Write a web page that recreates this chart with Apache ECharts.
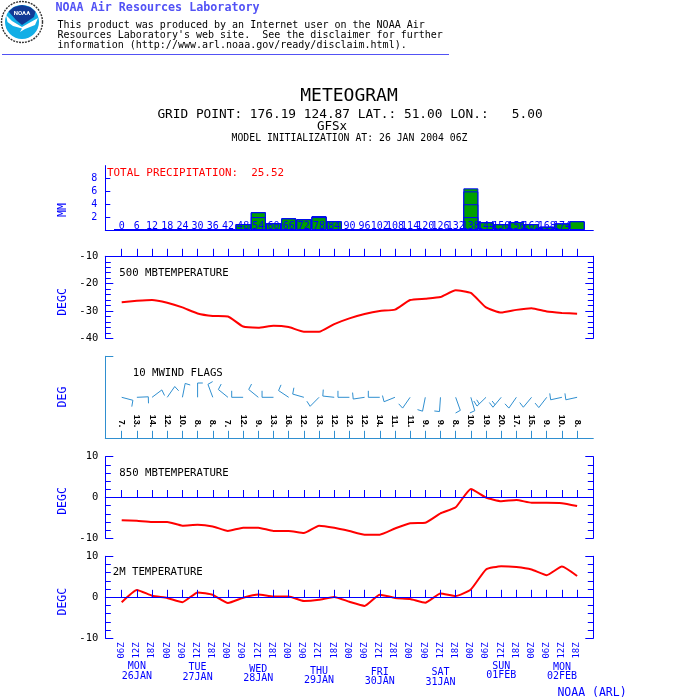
<!DOCTYPE html>
<html><head><meta charset="utf-8">
<style>html,body{margin:0;padding:0;background:#fff}#c{width:700px;height:700px}</style>
<script src="https://cdn.jsdelivr.net/npm/echarts@6/dist/echarts.min.js"></script>
</head><body><div id="c"></div>
<script>
const hours=[0,6,12,18,24,30,36,42,48,54,60,66,72,78,84,90,96,102,108,114,120,126,132,138,144,150,156,162,168,174,180];
const timeLabels=['06Z','12Z','18Z','00Z','06Z','12Z','18Z','00Z','06Z','12Z','18Z','00Z','06Z','12Z','18Z','00Z','06Z','12Z','18Z','00Z','06Z','12Z','18Z','00Z','06Z','12Z','18Z','00Z','06Z','12Z','18Z'];
const precip=[0,0,0.08,0.05,0.08,0,0,0.05,0.93,2.75,1.04,1.8,1.66,2.13,1.35,0.15,0,0,0,0,0,0,0,6.47,1.2,0.9,1.2,0.9,0.5,1.0,1.35];
const t500=[-26.8,-26.3,-26,-27,-28.7,-30.9,-31.8,-32,-35.7,-36.1,-35.4,-35.9,-37.6,-37.6,-34.8,-32.7,-31.1,-30,-29.5,-26,-25.5,-24.9,-22.4,-23.4,-28.7,-30.6,-29.6,-29,-30.2,-30.7,-31];
const windDir=[102,88,59,41,14,0,335,303,270,303,270,298,283,231,275,270,263,270,252,221,194,185,156,160,232,226,221,226,224,260,260];
const windSpeed=[7,13,14,12,10,8,8,7,12,9,13,16,12,13,12,12,12,14,11,11,9,9,8,10,19,20,17,15,9,10,8];
const t850=[-5.55,-5.7,-6,-6,-6.9,-6.7,-7.1,-8.2,-7.4,-7.4,-8.2,-8.2,-8.7,-6.9,-7.4,-8.2,-9.1,-9.1,-7.6,-6.3,-6.2,-3.9,-2.4,2.1,0,-0.9,-0.6,-1.3,-1.3,-1.4,-2.1];
const t2m=[-1.2,1.8,0.4,-0.15,-1.2,1.2,0.6,-1.4,-0.1,0.7,0.2,0.2,-0.9,-0.6,0.1,-1.1,-2.1,0.65,-0.15,-0.4,-1.3,0.9,0.3,1.9,6.8,7.6,7.4,6.8,5.4,7.5,5.2];
const dayHours=[6,30,54,78,102,126,150,174];
const dayNames=['MON','TUE','WED','THU','FRI','SAT','SUN','MON'];
const dayDates=['26JAN','27JAN','28JAN','29JAN','30JAN','31JAN','01FEB','02FEB'];

const MONO='"DejaVu Sans Mono",monospace';
const BLUE='#0000ff', RED='#ff0000', GREEN='#00a000', WIND='#2f8fd0', HEAD='#5252f5';
const L=105.3, W=488, XMIN=-6.48, XMAX=186.4;
const grids=[[165.6,64.4],[256.3,82],[356.3,82],[456.7,81.6],[556.3,82]];
const grid=grids.map(g=>({left:L,width:W,top:g[0],height:g[1],outerBoundsMode:'none',containLabel:false}));
function xa(i,o){return Object.assign({type:'value',gridIndex:i,min:XMIN,max:XMAX,splitLine:{show:false},z:6,
  axisLine:{onZero:false,lineStyle:{color:BLUE,width:1}},
  axisTick:{show:true,customValues:hours,lineStyle:{color:BLUE,width:1},length:7.5,inside:true},
  axisLabel:{show:false}},o||{});}
function ya(i,min,max,pos,showLabel){return {type:'value',gridIndex:i,min,max,interval:10,position:pos,splitLine:{show:false},
  axisLine:{show:true,onZero:false,lineStyle:{color:BLUE,width:1}},
  axisTick:{show:true,inside:true,length:8,lineStyle:{color:BLUE}},
  minorTick:{show:true,splitNumber:5,length:5.5,lineStyle:{color:BLUE}},
  axisLabel:{show:showLabel,color:'#000',fontFamily:MONO,fontSize:10.5,margin:7}};}

const xAxis=[
  xa(0,{position:'bottom',axisTick:{show:false},z:8,axisLabel:{show:true,inside:true,margin:-1,customValues:hours,color:BLUE,fontFamily:MONO,fontSize:10,hideOverlap:false,formatter:v=>String(v)}}),
  xa(1,{position:'top',axisTick:{show:true,customValues:hours,length:7.5,inside:false,lineStyle:{color:BLUE}}}),
  xa(2,{position:'bottom',axisLine:{onZero:false,lineStyle:{color:WIND}},
    axisTick:{show:true,customValues:hours,length:7.5,inside:true,lineStyle:{color:WIND}},
    axisLabel:{show:true,inside:true,margin:11,customValues:hours,rotate:-90,color:'#000',fontFamily:'"Liberation Sans",sans-serif',fontWeight:'bold',fontSize:9,hideOverlap:false,
      formatter:v=>windSpeed[hours.indexOf(v)]+'.'}}),
  xa(3,{position:'bottom',axisLine:{onZero:true,lineStyle:{color:BLUE}}}),
  xa(4,{position:'bottom',axisLine:{onZero:true,lineStyle:{color:BLUE}}}),
  xa(4,{position:'bottom',axisLine:{show:false,onZero:false},axisTick:{show:false},
    axisLabel:{show:true,margin:4,customValues:hours,rotate:90,color:BLUE,fontFamily:MONO,fontSize:9,hideOverlap:false,
      formatter:v=>timeLabels[hours.indexOf(v)]}})
];
const yAxis=[
  {type:'value',gridIndex:0,min:0,max:10,splitLine:{show:false},
   axisLine:{show:true,onZero:false,lineStyle:{color:BLUE}},
   axisTick:{show:true,inside:true,length:5,customValues:[2,4,6,8],lineStyle:{color:BLUE}},
   axisLabel:{show:true,customValues:[2,4,6,8],color:BLUE,fontFamily:MONO,fontSize:10,margin:8}},
  ya(1,-40,-10,'left',true), ya(1,-40,-10,'right',false),
  {type:'value',gridIndex:2,min:0,max:1,splitLine:{show:false},
   axisLine:{show:true,onZero:false,lineStyle:{color:WIND}},
   axisTick:{show:true,inside:true,length:8,customValues:[1],lineStyle:{color:WIND}},axisLabel:{show:false}},
  ya(3,-10,10,'left',true), ya(3,-10,10,'right',false),
  ya(4,-10,10,'left',true), ya(4,-10,10,'right',false)
];
/* bars are layered tallest first, so the outline of each layer marks the 2 mm divisions */
const precipCaps=[Infinity,6,4,2];
const barSeries=precipCaps.map(c=>({type:'bar',xAxisIndex:0,yAxisIndex:0,barWidth:15,barGap:'-100%',
  data:hours.map((h,i)=>[h,Math.min(precip[i],c)]),
  itemStyle:{color:GREEN,borderColor:BLUE,borderWidth:1},silent:true,animation:false}));
function line(x,y,data){return {type:'line',xAxisIndex:x,yAxisIndex:y,data:hours.map((h,i)=>[h,data[i]]),showSymbol:false,smooth:0.15,
  lineStyle:{color:RED,width:2},itemStyle:{color:RED},silent:true,animation:false,z:5};}

const windSeries={type:'custom',xAxisIndex:2,yAxisIndex:3,silent:true,animation:false,clip:false,
  data:hours.map((h,i)=>[h,windDir[i],windSpeed[i]]),
  encode:{x:0,y:-1},
  renderItem(p,api){
    const o=api.coord([api.value(0),0.5]), a=api.value(1)*Math.PI/180, s=api.value(2);
    const vec=(ang,len)=>[Math.sin(ang)*len*0.8,-Math.cos(ang)*len];
    const st=vec(a,14.3), end=[o[0]+st[0],o[1]+st[1]];
    const b=vec(a+Math.PI/2,6.5);
    const children=[{type:'polyline',shape:{points:[o,end,[end[0]+b[0],end[1]+b[1]]]},style:{stroke:WIND,fill:null,lineWidth:1}}];
    if(s>=18){const m=[o[0]+st[0]*0.75,o[1]+st[1]*0.75];
      children.push({type:'polyline',shape:{points:[m,[m[0]+b[0]*0.8,m[1]+b[1]*0.8]]},style:{stroke:WIND,fill:null,lineWidth:1}});}
    return {type:'group',children};
  }};

const dayYOffset=[0,1,2.5,4.5,5.5,6,-0.5,0.5];
const daySeries={type:'custom',xAxisIndex:4,yAxisIndex:6,silent:true,animation:false,clip:false,
  data:dayHours.map((h,i)=>[h,i]),encode:{x:0,y:-1},
  renderItem(p,api){
    const i=api.value(1), c=api.coord([api.value(0),-10]), y0=c[1]+28.5+dayYOffset[i];
    const st=t=>({text:t,fill:BLUE,font:'10px '+MONO,textAlign:'center',textVerticalAlign:'middle'});
    return {type:'group',children:[
      {type:'text',x:c[0],y:y0,style:st(dayNames[i])},
      {type:'text',x:c[0],y:y0+9.5,style:st(dayDates[i])}]};
  }};

function txt(text,x,y,size,fill,align,extra){return Object.assign({type:'text',x,y,silent:true,style:{text,fill,font:(extra&&extra.bold?'bold ':'')+size+'px '+MONO,textAlign:align||'left',textVerticalAlign:'middle'}},extra&&extra.rotation?{rotation:extra.rotation}:{});}
const V=Math.PI/2;
const logo=[
  {type:'circle',shape:{cx:22,cy:22,r:20.5},style:{fill:'#fff',stroke:'#333',lineWidth:1.4,lineDash:[2,1]},silent:true},
  {type:'circle',shape:{cx:22,cy:22,r:17},style:{fill:'#12aee6'},silent:true},
  {type:'polygon',shape:{points:[[8.5,11.5],[14,7],[22,5],[30,7],[35.5,11.5],[34,17],[28,21],[22,25],[16,20]]},style:{fill:'#123a96'},silent:true},
  {type:'polygon',shape:{points:[[6,15],[12,21],[22,27],[29,23],[38,18],[35,25],[25,29],[20,32],[22,28.5],[13,26],[7.5,22]]},style:{fill:'#fff'},silent:true},
  {type:'text',x:22,y:13,silent:true,style:{text:'NOAA',fill:'#fff',font:'bold 6px Roboto,sans-serif',textAlign:'center',textVerticalAlign:'middle'}}
];
const texts=[
  txt('NOAA Air Resources Laboratory',55.5,8,11.7,HEAD,'left',{bold:true}),
  txt('This product was produced by an Internet user on the NOAA Air',57.5,25.5,10,'#000'),
  txt("Resources Laboratory's web site.  See the disclaimer for further",57.5,35.5,10,'#000'),
  txt('information (http://www.arl.noaa.gov/ready/disclaim.html).',57.5,45.5,10,'#000'),
  {type:'line',silent:true,shape:{x1:2,y1:54.5,x2:449,y2:54.5},style:{stroke:HEAD,lineWidth:1}},
  txt('METEOGRAM',349,96.5,18,'#000','center'),
  txt('GRID POINT: 176.19 124.87 LAT.: 51.00 LON.:   5.00',350,115,12.8,'#000','center'),
  txt('GFSx',332,126.7,12.5,'#000','center'),
  txt('MODEL INITIALIZATION AT: 26 JAN 2004 06Z',349.5,138.5,9.8,'#000','center'),
  txt('TOTAL PRECIPITATION:  25.52',107,173,10.9,RED),
  txt('500 MBTEMPERATURE',119.3,273,10.7,'#000'),
  txt('10 MWIND FLAGS',132.7,373,10.7,'#000'),
  txt('850 MBTEMPERATURE',119.3,473,10.7,'#000'),
  txt('2M TEMPERATURE',112.7,572.7,10.7,'#000'),
  txt('MM',63,210,11.5,BLUE,'center',{rotation:V}),
  txt('DEGC',63,302,11.5,BLUE,'center',{rotation:V}),
  txt('DEG',63,397,11.5,BLUE,'center',{rotation:V}),
  txt('DEGC',63,501,11.5,BLUE,'center',{rotation:V}),
  txt('DEGC',63,601.7,11.5,BLUE,'center',{rotation:V}),
  txt('NOAA (ARL)',592,693,11.5,BLUE,'center')
];
const chart=echarts.init(document.getElementById('c'),null,{renderer:'canvas',width:700,height:700});
chart.setOption({animation:false,backgroundColor:'#fff',grid,xAxis,yAxis,
  graphic:{elements:logo.concat(texts)},
  series:[...barSeries,line(1,1,t500),windSeries,line(3,4,t850),line(4,6,t2m),daySeries]});
</script></body></html>
